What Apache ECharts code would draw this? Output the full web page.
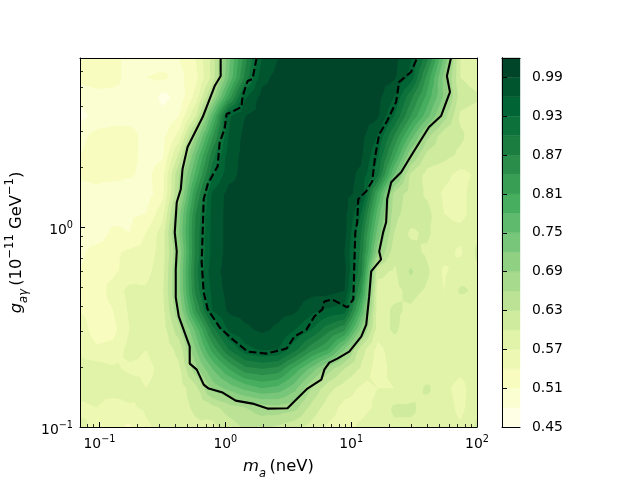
<!DOCTYPE html>
<html>
<head>
<meta charset="utf-8">
<style>html,body{margin:0;padding:0;background:#fff}#main{width:640px;height:480px}</style>
<script src="https://cdn.jsdelivr.net/npm/echarts@6/dist/echarts.min.js"></script>
</head>
<body>
<div id="main"></div>
<script>
// grid nodes, log10 of the axis value
var logMass = [-1.155,-1.024,-0.892,-0.761,-0.63,-0.498,-0.367,-0.235,-0.104,0.027,0.159,0.29,0.42,0.553,0.684,0.816,0.947,1.079,1.21,1.342,1.473,1.605,1.737,1.868,2];
var logCoupling = [0.845,0.748,0.651,0.554,0.457,0.359,0.262,0.165,0.068,-0.029,-0.126,-0.223,-0.32,-0.417,-0.514,-0.612,-0.709,-0.806,-0.903,-1];

// one row per logCoupling entry, one column per logMass entry
var confidence = [
  [.515,.525,.52,.50,.50,.495,.51,.54,.61,.74,.86,.96,.99,1,1,1,1,1,1,1,.965,.88,.745,.60,.585],
  [.52,.525,.52,.50,.51,.515,.50,.53,.61,.75,.88,.98,1,1,1,1,1,1,1,.995,.95,.83,.71,.60,.585],
  [.49,.50,.50,.505,.51,.47,.49,.55,.67,.82,.955,1,1,1,1,1,1,1,1,.96,.88,.80,.715,.615,.605],
  [.47,.49,.50,.50,.50,.49,.51,.60,.77,.955,.99,1,1,1,1,1,1,1,.995,.93,.84,.76,.675,.595,.585],
  [.50,.52,.52,.52,.50,.50,.55,.69,.83,.96,1,1,1,1,1,1,1,1,.96,.87,.77,.67,.61,.605,.585],
  [.51,.525,.53,.525,.495,.505,.61,.75,.885,.975,1,1,1,1,1,1,1,.995,.935,.82,.695,.62,.61,.595,.585],
  [.52,.525,.525,.515,.50,.53,.66,.79,.92,.98,1,1,1,1,1,1,1,.985,.91,.75,.625,.59,.58,.56,.575],
  [.485,.495,.48,.49,.495,.53,.67,.84,.965,1,1,1,1,1,1,1,1,.98,.81,.65,.615,.595,.565,.555,.595],
  [.49,.50,.49,.505,.51,.56,.71,.87,.97,1,1,1,1,1,1,1,1,.93,.77,.64,.615,.61,.57,.56,.585],
  [.49,.48,.52,.51,.54,.585,.72,.88,.97,1,1,1,1,1,1,1,1,.90,.74,.63,.595,.605,.58,.58,.595],
  [.50,.53,.535,.545,.55,.585,.70,.88,.97,1,1,1,1,1,1,1,.99,.89,.70,.61,.61,.595,.58,.565,.605],
  [.51,.535,.535,.55,.56,.59,.71,.89,.98,1,1,1,1,1,1,1,1,.88,.61,.595,.635,.605,.565,.585,.595],
  [.525,.525,.55,.58,.575,.595,.71,.88,.97,1,1,1,1,1,1,1,.99,.84,.585,.59,.61,.595,.57,.605,.595],
  [.54,.53,.54,.575,.58,.59,.69,.84,.96,.995,1,1,1,.995,.97,.955,.945,.78,.585,.605,.595,.58,.57,.575,.585],
  [.555,.525,.53,.57,.58,.585,.65,.76,.885,.965,.985,.995,.985,.96,.93,.88,.845,.71,.585,.605,.585,.58,.585,.575,.58],
  [.565,.545,.55,.58,.57,.58,.61,.72,.82,.90,.95,.965,.96,.91,.85,.81,.72,.615,.56,.585,.585,.58,.595,.58,.585],
  [.58,.585,.575,.565,.565,.575,.595,.68,.75,.81,.86,.87,.86,.80,.74,.675,.63,.595,.555,.58,.585,.58,.595,.58,.595],
  [.58,.58,.59,.585,.57,.575,.585,.62,.70,.73,.76,.78,.77,.73,.66,.61,.585,.565,.57,.57,.585,.605,.58,.555,.595],
  [.565,.57,.55,.565,.575,.585,.59,.605,.62,.645,.66,.675,.68,.67,.62,.585,.56,.56,.575,.605,.605,.59,.59,.56,.595],
  [.575,.565,.55,.535,.565,.58,.585,.595,.59,.615,.635,.64,.625,.61,.59,.565,.56,.575,.59,.595,.595,.595,.585,.575,.605]
];

// contour lines, log10 of the axis value
var solidLogMass = [-.037,-.037,-.085,-.18,-.30,-.34,-.354,-.386,-.402,-.386,-.394,-.394,-.37,-.283,-.283,-.227,-.172,-.132,-.021,.082,.216,.335,.494,.652,.763,.787,.826,.89,.985,1.08,1.12,1.143,1.159,1.238,1.223,1.254,1.278,1.286,1.318,1.397,1.484,1.619,1.714,1.785,1.761,1.793];
var solidLogCoupling = [.845,.755,.705,.55,.40,.29,.189,.124,-.027,-.122,-.212,-.352,-.447,-.598,-.683,-.713,-.788,-.808,-.828,-.868,-.883,-.908,-.906,-.808,-.763,-.713,-.678,-.658,-.623,-.548,-.488,-.347,-.222,-.162,-.122,-.027,.024,.139,.224,.274,.364,.50,.555,.675,.755,.845];
var dashedLogMass = [.248,.216,.177,.137,.129,.05,.01,-.006,-.045,-.061,-.14,-.172,-.18,-.188,-.172,-.14,-.045,.058,.177,.327,.486,.549,.644,.708,.771,.787,.85,.969,1.017,1.033,1.048,1.056,1.12,1.167,1.191,1.223,1.286,1.357,1.381,1.476,1.524];
var dashedLogCoupling = [.845,.74,.73,.655,.60,.575,.565,.49,.424,.304,.214,.139,-.027,-.177,-.327,-.412,-.502,-.562,-.623,-.633,-.608,-.548,-.513,-.447,-.412,-.372,-.362,-.402,-.362,-.027,.024,.139,.179,.229,.354,.464,.53,.625,.725,.775,.845];

var levels = [.45,.48,.51,.54,.57,.60,.63,.66,.69,.72,.75,.78,.81,.84,.87,.90,.93,.96,.99,1.02];
var colorbarTicks = [.45,.51,.57,.63,.69,.75,.81,.87,.93,.99];
var massTicks = [.1,1,10,100];
var massMinorTicks = [.08,.09,.2,.3,.4,.5,.6,.7,.8,.9,2,3,4,5,6,7,8,9,20,30,40,50,60,70,80,90];
var couplingTicks = [.1,1];
var couplingMinorTicks = [.2,.3,.4,.5,.6,.7,.8,.9,2,3,4,5,6,7];

var YlGn = [[255,255,229],[247,252,185],[217,240,163],[173,221,142],[120,198,121],[65,171,93],[35,132,67],[0,104,55],[0,69,41]];
function bandColor(i) {
  var t = i / (levels.length - 2) * (YlGn.length - 1);
  var k = Math.min(Math.floor(t), YlGn.length - 2);
  var f = t - k;
  var c = [0, 1, 2].map(function (n) {
    return Math.round(YlGn[k][n] + (YlGn[k + 1][n] - YlGn[k][n]) * f);
  });
  return 'rgb(' + c.join(',') + ')';
}

// keep the part of a polygon of [x, y, z] points with z >= limit
function clipAbove(poly, limit) {
  var out = [];
  for (var i = 0; i < poly.length; i++) {
    var a = poly[i], b = poly[(i + 1) % poly.length];
    if (a[2] >= limit) out.push(a);
    if ((a[2] >= limit) !== (b[2] >= limit)) {
      var f = (limit - a[2]) / (b[2] - a[2]);
      out.push([a[0] + (b[0] - a[0]) * f, a[1] + (b[1] - a[1]) * f, limit]);
    }
  }
  return out;
}

// one path per level: everything at or above it, painted low to high
function levelItem(params, api) {
  var b = api.value(0);
  function node(ci, cj) {
    var p = api.coord([Math.pow(10, logMass[ci]), Math.pow(10, logCoupling[cj])]);
    return [p[0], p[1], confidence[cj][ci]];
  }
  var d = [];
  for (var j = 0; j < logCoupling.length - 1; j++) {
    for (var i = 0; i < logMass.length - 1; i++) {
      var q = [node(i, j), node(i + 1, j), node(i + 1, j + 1), node(i, j + 1)];
      var mid = [0, 1, 2].map(function (n) {
        return (q[0][n] + q[1][n] + q[2][n] + q[3][n]) / 4;
      });
      for (var s = 0; s < 4; s++) {
        var poly = clipAbove([q[s], q[(s + 1) % 4], mid], levels[b]);
        if (poly.length < 3) continue;
        d.push('M' + poly.map(function (p) { return p[0].toFixed(2) + ' ' + p[1].toFixed(2); }).join('L') + 'Z');
      }
    }
  }
  if (!d.length) return null;
  return { type: 'path', shape: { pathData: d.join('') }, style: { fill: bandColor(b) } };
}

function colorbarItem(params, api) {
  var b = api.value(0);
  var p0 = api.coord([0, levels[b]]), p1 = api.coord([1, levels[b + 1]]);
  var col = bandColor(b);
  return {
    type: 'rect',
    shape: { x: p0[0], y: p1[1], width: p1[0] - p0[0], height: p0[1] - p1[1] },
    style: { fill: col, stroke: col, lineWidth: 0.4 }
  };
}

function toLine(lx, ly) {
  return lx.map(function (v, i) { return [Math.pow(10, v), Math.pow(10, ly[i])]; });
}

var bandIndex = levels.slice(0, -1).map(function (l, i) { return [i]; });

var FONT = 'DejaVu Sans';
var logRich = {
  b: { fontFamily: FONT, fontSize: 13.9, color: '#000', verticalAlign: 'bottom', lineHeight: 17 },
  s: { fontFamily: FONT, fontSize: 9.7, color: '#000', verticalAlign: 'top', lineHeight: 13 }
};
function logLabel(v) {
  return '{b|10}{s|' + String(Math.round(Math.log10(v))).replace('-', '\u2212') + '}';
}
var nameRich = {
  n: { fontFamily: FONT, fontSize: 16.4, color: '#000', lineHeight: 26 },
  i: { fontFamily: FONT, fontSize: 16.4, color: '#000', fontStyle: 'italic', lineHeight: 26 },
  d: { fontFamily: FONT, fontSize: 11.5, color: '#000', fontStyle: 'italic', verticalAlign: 'bottom', lineHeight: 20 },
  u: { fontFamily: FONT, fontSize: 11.5, color: '#000', verticalAlign: 'top', lineHeight: 14 }
};
var blackLine = { show: true, lineStyle: { color: '#000', width: 1 } };

var option = {
  animation: false,
  backgroundColor: '#fff',
  grid: [
    { left: 80, top: 58, width: 397, height: 369, outerBoundsMode: 'none' },
    { left: 502, top: 58, width: 18, height: 369, outerBoundsMode: 'none' }
  ],
  xAxis: [
    {
      type: 'log', gridIndex: 0, position: 'bottom', min: 0.07, max: 100, z: 5,
      axisLine: blackLine, splitLine: { show: false },
      axisTick: { show: true, inside: true, length: 5, customValues: massTicks, lineStyle: { color: '#000', width: 1 } },
      axisLabel: { show: true, customValues: massTicks, margin: 7, formatter: logLabel, rich: logRich },
      name: '{i|m}{d|a}{n|\u2009(neV)}', nameLocation: 'middle', nameGap: 27, nameTextStyle: { rich: nameRich }
    },
    {
      type: 'log', gridIndex: 0, position: 'bottom', min: 0.07, max: 100, z: 5,
      axisLine: { show: false }, splitLine: { show: false }, axisLabel: { show: false },
      axisTick: { show: true, inside: true, length: 3, customValues: massMinorTicks, lineStyle: { color: '#000', width: 0.8 } }
    },
    {
      type: 'log', gridIndex: 0, position: 'top', min: 0.07, max: 100, z: 5,
      axisLine: blackLine, splitLine: { show: false }, axisLabel: { show: false }, axisTick: { show: false }
    },
    { type: 'value', gridIndex: 1, position: 'bottom', min: 0, max: 1, z: 5, axisLine: blackLine, splitLine: { show: false }, axisLabel: { show: false }, axisTick: { show: false } },
    { type: 'value', gridIndex: 1, position: 'top', min: 0, max: 1, z: 5, axisLine: blackLine, splitLine: { show: false }, axisLabel: { show: false }, axisTick: { show: false } }
  ],
  yAxis: [
    {
      type: 'log', gridIndex: 0, position: 'left', min: 0.1, max: 7, z: 5,
      axisLine: blackLine, splitLine: { show: false },
      axisTick: { show: true, inside: true, length: 5, customValues: couplingTicks, lineStyle: { color: '#000', width: 1 } },
      axisLabel: { show: true, customValues: couplingTicks, margin: 7, padding: [3, 0, 0, 0], formatter: logLabel, rich: logRich },
      name: '{i|g}{d|a\u03b3}{n|\u2009(10}{u|\u221211}{n| GeV}{u|\u22121}{n|)}', nameLocation: 'middle', nameGap: 44, nameRotate: 90,
      nameTextStyle: { rich: nameRich }
    },
    {
      type: 'log', gridIndex: 0, position: 'left', min: 0.1, max: 7, z: 5,
      axisLine: { show: false }, splitLine: { show: false }, axisLabel: { show: false },
      axisTick: { show: true, inside: true, length: 3, customValues: couplingMinorTicks, lineStyle: { color: '#000', width: 0.8 } }
    },
    {
      type: 'log', gridIndex: 0, position: 'right', min: 0.1, max: 7, z: 5,
      axisLine: blackLine, splitLine: { show: false }, axisLabel: { show: false }, axisTick: { show: false }
    },
    { type: 'value', gridIndex: 1, position: 'left', min: 0.45, max: 1.02, z: 5, axisLine: blackLine, splitLine: { show: false }, axisLabel: { show: false }, axisTick: { show: false } },
    {
      type: 'value', gridIndex: 1, position: 'right', min: 0.45, max: 1.02, z: 5,
      axisLine: blackLine, splitLine: { show: false },
      axisTick: { show: true, inside: false, length: 5, customValues: colorbarTicks, lineStyle: { color: '#000', width: 1 } },
      axisLabel: {
        show: true, customValues: colorbarTicks, margin: 12, padding: [4, 0, 0, 0], fontFamily: FONT, fontSize: 13.9, color: '#000',
        formatter: function (v) { return v.toFixed(2); }
      }
    }
  ],
  series: [
    { type: 'custom', coordinateSystem: 'cartesian2d', xAxisIndex: 0, yAxisIndex: 0, clip: true, silent: true, data: bandIndex, renderItem: levelItem, z: 2 },
    { type: 'line', xAxisIndex: 0, yAxisIndex: 0, data: toLine(solidLogMass, solidLogCoupling), showSymbol: false, silent: true, clip: true, lineStyle: { color: '#000', width: 2.1 }, z: 3 },
    { type: 'line', xAxisIndex: 0, yAxisIndex: 0, data: toLine(dashedLogMass, dashedLogCoupling), showSymbol: false, silent: true, clip: true, lineStyle: { color: '#000', width: 2.1, type: [7.7, 3.3] }, z: 3 },
    { type: 'custom', coordinateSystem: 'cartesian2d', xAxisIndex: 3, yAxisIndex: 3, silent: true, data: bandIndex, renderItem: colorbarItem, z: 2 }
  ]
};

var chart = echarts.init(document.getElementById('main'), null, { renderer: 'canvas' });
chart.setOption(option);
</script>
</body>
</html>
